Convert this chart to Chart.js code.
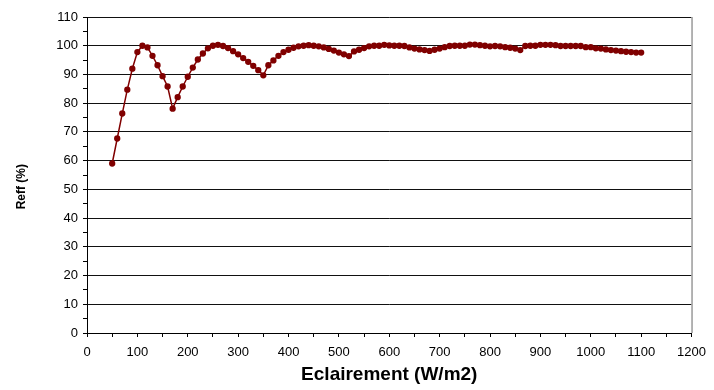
<!DOCTYPE html>
<html>
<head>
<meta charset="utf-8">
<script src="https://cdn.jsdelivr.net/npm/chart.js@4/dist/chart.umd.min.js"></script>
<style>
    html, body { margin: 0; padding: 0; background: #fff; }
    #wrap { width: 714px; height: 390px; }
</style>
</head>
<body>
<div id="wrap"><canvas id="chart"></canvas></div>
<script>
    // irradiance, W/m2
    const eclairement = [
        50, 60, 70, 80, 90, 100, 110, 120, 130, 140,
        150, 160, 170, 180, 190, 200, 210, 220, 230, 240,
        250, 260, 270, 280, 290, 300, 310, 320, 330, 340,
        350, 360, 370, 380, 390, 400, 410, 420, 430, 440,
        450, 460, 470, 480, 490, 500, 510, 520, 530, 540,
        550, 560, 570, 580, 590, 600, 610, 620, 630, 640,
        650, 660, 670, 680, 690, 700, 710, 720, 730, 740,
        750, 760, 770, 780, 790, 800, 810, 820, 830, 840,
        850, 860, 870, 880, 890, 900, 910, 920, 930, 940,
        950, 960, 970, 980, 990, 1000, 1010, 1020, 1030, 1040,
        1050, 1060, 1070, 1080, 1090, 1100
    ];
    // Reff, %
    const reff = [
        59.0, 67.7, 76.4, 84.7, 92.0, 97.8, 100.0, 99.4, 96.5, 93.2,
        89.4, 85.8, 78.1, 82.1, 85.8, 89.2, 92.4, 95.2, 97.3, 99.1,
        100.0, 100.3, 99.9, 99.2, 98.1, 97.0, 95.7, 94.4, 93.0, 91.5,
        89.7, 93.2, 94.9, 96.5, 97.8, 98.6, 99.3, 99.8, 100.0, 100.2,
        100.0, 99.8, 99.4, 98.9, 98.3, 97.6, 97.0, 96.4, 98.0, 98.6,
        99.2, 99.8, 100.0, 100.0, 100.3, 100.1, 100.0, 100.0, 99.9, 99.4,
        99.0, 98.7, 98.5, 98.2, 98.6, 99.0, 99.5, 99.9, 100.0, 100.0,
        100.0, 100.4, 100.4, 100.2, 100.0, 99.8, 99.9, 99.8, 99.5, 99.3,
        99.0, 98.5, 99.9, 100.0, 100.0, 100.3, 100.3, 100.3, 100.2, 99.9,
        99.9, 99.9, 99.9, 99.9, 99.5, 99.5, 99.1, 99.0, 98.7, 98.5,
        98.3, 98.1, 97.9, 97.8, 97.6, 97.6
    ];

    const xMax = 1200;
    const yMax = 110;

    const points = eclairement.map((x, i) => ({ x: x, y: reff[i] }));

    // grey frame on the right side of the plot
    const frame = {
        id: 'frame',
        afterDraw(chart) {
            const a = chart.chartArea;
            const ctx = chart.ctx;
            ctx.save();
            ctx.strokeStyle = '#9a9a9a';
            ctx.lineWidth = 1.5;
            ctx.beginPath();
            ctx.moveTo(a.right + 0.5, a.top);
            ctx.lineTo(a.right + 0.5, a.bottom);
            ctx.stroke();
            ctx.restore();
        }
    };

    const font = "'Liberation Sans', Arial, sans-serif";

    new Chart(document.getElementById('chart'), {
        type: 'scatter',
        data: {
            datasets: [{
                data: points,
                showLine: true,
                borderColor: '#800000',
                backgroundColor: '#800000',
                borderWidth: 1.5,
                pointRadius: 2.4,
                pointHoverRadius: 2.4,
                tension: 0
            }]
        },
        options: {
            responsive: true,
            maintainAspectRatio: false,
            animation: false,
            layout: { padding: { top: 17, right: 22, left: 0, bottom: 0 } },
            plugins: {
                legend: { display: false },
                tooltip: { enabled: false }
            },
            scales: {
                x: {
                    type: 'linear',
                    min: 0,
                    max: xMax,
                    afterFit(scale) { scale.height = 57; },
                    ticks: {
                        stepSize: 50,
                        autoSkip: false,
                        maxRotation: 0,
                        color: '#000',
                        padding: 8,
                        font: { family: font, size: 13 },
                        callback: (v) => (v % 100 === 0 ? v : '')
                    },
                    grid: {
                        drawOnChartArea: false,
                        drawTicks: true,
                        tickLength: 4,
                        tickColor: '#000'
                    },
                    border: { color: '#000', width: 1 },
                    title: {
                        display: true,
                        text: 'Eclairement (W/m2)',
                        color: '#000',
                        padding: { top: 5 },
                        font: { family: font, size: 19, weight: 'bold' }
                    }
                },
                y: {
                    min: 0,
                    max: yMax,
                    afterFit(scale) { scale.width = 87; },
                    ticks: {
                        stepSize: 5,
                        autoSkip: false,
                        color: '#000',
                        padding: 5,
                        font: { family: font, size: 13 },
                        callback: (v) => (v % 10 === 0 ? v : '')
                    },
                    grid: {
                        color: (c) => (c.tick && c.tick.value % 10 === 0 ? '#111' : 'rgba(0,0,0,0)'),
                        tickColor: '#000',
                        tickLength: 4,
                        lineWidth: 1
                    },
                    border: { color: '#000', width: 1 },
                    title: {
                        display: true,
                        // trailing spaces push the label a bit below centre, as in the original
                        text: 'Reff (%)       ',
                        color: '#000',
                        padding: { top: 14, bottom: 0 },
                        font: { family: font, size: 12, weight: 'bold' }
                    }
                }
            }
        },
        plugins: [frame]
    });
</script>
</body>
</html>
